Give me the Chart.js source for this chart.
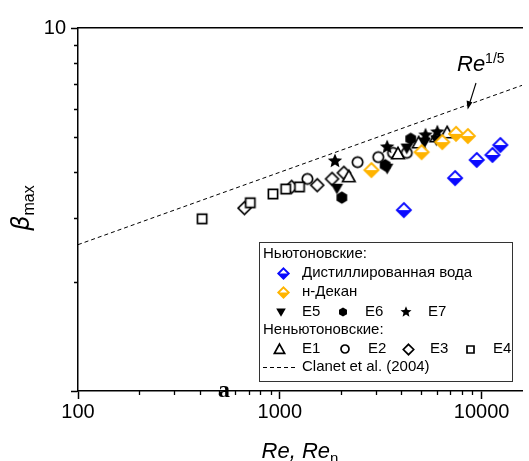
<!DOCTYPE html>
<html>
<head>
<meta charset="utf-8">
<script src="https://cdn.jsdelivr.net/npm/chart.js@4.4.0/dist/chart.umd.min.js"></script>
<style>html,body{margin:0;padding:0;background:#fff}canvas{display:block}</style>
</head>
<body>
<canvas id="c" width="529" height="461" style="width:529px;height:461px"></canvas>
<script>
// значения: Re (ось x) и beta_max (ось y)
const waterRe    = [4117, 7385, 9454, 11316, 12380];
const waterBeta  = [3.15, 3.86, 4.33, 4.47, 4.76];
const decaneRe   = [2843, 5039, 6381, 7469, 8545];
const decaneBeta = [4.06, 4.55, 4.85, 5.11, 5.04];
const e5Re   = [1918, 3402, 4258, 5213, 5965];
const e5Beta = [3.62, 4.11, 4.67, 4.85, 4.92];
const e6Re   = [2029, 3327, 4454];
const e6Beta = [3.41, 4.19, 4.95];
const e7Re   = [1876, 3402, 5272, 6033];
const e7Beta = [4.30, 4.70, 5.07, 5.17];
const e1Re   = [2196, 3849, 4873, 5965, 6749];
const e1Beta = [3.89, 4.50, 4.82, 5.01, 5.14];
const e2Re   = [1370, 2429, 3075, 3639, 4258];
const e2Beta = [3.84, 4.27, 4.41, 4.53, 4.53];
const e3Re   = [668, 1144, 1532, 1814, 2076];
const e3Beta = [3.19, 3.65, 3.69, 3.84, 3.99];
const e4Re   = [412, 714, 925, 1070, 1252];
const e4Beta = [2.98, 3.30, 3.49, 3.60, 3.65];
const clanetRe   = [100, 15849];
const clanetBeta = [2.53, 6.95];

const xTicks = [100,200,300,400,500,600,700,800,900,1000,2000,3000,4000,5000,6000,7000,8000,9000,10000];
const xMajor = [100, 1000, 10000];
const yTicks = [1,2,3,4,5,6,7,8,9,10];
const yMajor = [1, 10];

const F = '"Liberation Sans", Arial, sans-serif';
const BLUE = '#0a0aff', GOLD = '#ffb400';

const pts = (xs, ys) => xs.map((v, i) => ({x: v, y: ys[i]}));

// маркеры — маленькие canvas
function mk(sz, draw){
  const c = document.createElement('canvas'); c.width = c.height = sz;
  const g = c.getContext('2d'); g.translate(sz/2, sz/2); draw(g); return c;
}
function halfDiamond(col, r){
  return mk(Math.ceil(2*r+4), g => {
    const d = () => { g.beginPath(); g.moveTo(0,-r); g.lineTo(r,0); g.lineTo(0,r); g.lineTo(-r,0); g.closePath(); };
    d(); g.fillStyle = '#fff'; g.fill();
    g.beginPath(); g.moveTo(-r,0); g.lineTo(r,0); g.lineTo(0,r); g.closePath(); g.fillStyle = col; g.fill();
    d(); g.strokeStyle = col; g.lineWidth = 1.9; g.stroke();
  });
}
function openShape(kind, r){
  return mk(Math.ceil(2*r+4), g => {
    g.beginPath();
    if (kind === 'tri') { g.moveTo(0,-r); g.lineTo(r*0.95, r*0.72); g.lineTo(-r*0.95, r*0.72); g.closePath(); }
    else if (kind === 'circ') g.arc(0, 0, r, 0, Math.PI*2);
    else if (kind === 'dia') { g.moveTo(0,-r); g.lineTo(r,0); g.lineTo(0,r); g.lineTo(-r,0); g.closePath(); }
    else g.rect(-r, -r, 2*r, 2*r);
    g.fillStyle = '#fff'; g.fill(); g.strokeStyle = '#000'; g.lineWidth = 1.7; g.stroke();
  });
}
function solidShape(kind, r){
  return mk(Math.ceil(2*r+4), g => {
    g.beginPath();
    if (kind === 'down') { g.moveTo(-r, -r*0.72); g.lineTo(r, -r*0.72); g.lineTo(0, r); g.closePath(); }
    else if (kind === 'hex') {
      for (let i = 0; i < 6; i++) { const a = -Math.PI/2 + i*Math.PI/3; g.lineTo(r*Math.cos(a), r*Math.sin(a)); }
      g.closePath();
    } else {
      for (let i = 0; i < 10; i++) { const a = -Math.PI/2 + i*Math.PI/5, rr = i % 2 ? r*0.45 : r; g.lineTo(rr*Math.cos(a), rr*Math.sin(a)); }
      g.closePath();
    }
    g.fillStyle = '#000'; g.fill();
  });
}

const M = {
  water: halfDiamond(BLUE, 7), decane: halfDiamond(GOLD, 7),
  e5: solidShape('down', 6.2), e6: solidShape('hex', 6.2), e7: solidShape('star', 7.6),
  e1: openShape('tri', 6.6), e2: openShape('circ', 5.2), e3: openShape('dia', 6.4), e4: openShape('sq', 4.6)
};
const L = {
  water: halfDiamond(BLUE, 5.2), decane: halfDiamond(GOLD, 5.2),
  e5: solidShape('down', 4.8), e6: solidShape('hex', 4.6), e7: solidShape('star', 5.8),
  e1: openShape('tri', 5.4), e2: openShape('circ', 4), e3: openShape('dia', 5.2), e4: openShape('sq', 3.5)
};

function rich(ctx, parts, x, y, align){
  let w = 0;
  parts.forEach(p => { ctx.font = p[1]; w += ctx.measureText(p[0]).width; });
  let cx = align === 'center' ? x - w/2 : x;
  parts.forEach(p => { ctx.font = p[1]; ctx.fillText(p[0], cx, y + p[2]); cx += ctx.measureText(p[0]).width; });
}

const decor = {
  id: 'decor',
  afterDraw(chart){
    const {ctx, chartArea: a, scales: {x, y}} = chart;
    ctx.save();
    ctx.strokeStyle = '#000'; ctx.lineWidth = 1.3;
    ctx.beginPath();
    xTicks.filter(v => !xMajor.includes(v)).forEach(v => {
      const px = Math.round(x.getPixelForValue(v)) + 0.5;
      ctx.moveTo(px, a.bottom); ctx.lineTo(px, a.bottom + 4);
    });
    yTicks.filter(v => !yMajor.includes(v)).forEach(v => {
      const py = Math.round(y.getPixelForValue(v)) + 0.5;
      ctx.moveTo(a.left, py); ctx.lineTo(a.left - 4, py);
    });
    ctx.stroke();

    ctx.fillStyle = '#000'; ctx.textBaseline = 'alphabetic'; ctx.textAlign = 'left';
    // подпись оси x
    rich(ctx, [['Re, Re', 'italic 22px ' + F, 0], ['n', '15px ' + F, 5]], 300, 458, 'center');
    // подпись оси y
    ctx.save(); ctx.translate(29, 208); ctx.rotate(-Math.PI/2);
    rich(ctx, [['β', 'italic 24px "DejaVu Sans", ' + F, 0], ['max', '16px ' + F, 5]], 0, 0, 'center');
    ctx.restore();
    // Re^{1/5} со стрелкой
    rich(ctx, [['Re', 'italic 22px ' + F, 0], ['1/5', '14px ' + F, -8]], 457, 71, 'left');
    ctx.beginPath(); ctx.lineWidth = 1.1; ctx.moveTo(476, 83); ctx.lineTo(470, 102); ctx.stroke();
    ctx.beginPath(); ctx.moveTo(467.7, 109.5); ctx.lineTo(466.6, 100.6); ctx.lineTo(472.4, 102.3); ctx.closePath(); ctx.fill();
    // буква a
    ctx.font = 'bold 24px "Liberation Serif", serif'; ctx.textAlign = 'center';
    ctx.fillText('a', 224, 397);

    // легенда
    const bx = 259, by = 242, bw = 253, bh = 139;
    ctx.fillStyle = '#fff'; ctx.fillRect(bx, by, bw, bh);
    ctx.strokeStyle = '#333'; ctx.lineWidth = 1; ctx.strokeRect(bx + 0.5, by + 0.5, bw, bh);
    ctx.fillStyle = '#000'; ctx.textAlign = 'left'; ctx.textBaseline = 'middle';
    ctx.font = '15px ' + F;
    const img = (c, cx, cy) => ctx.drawImage(c, Math.round(cx - c.width/2), Math.round(cy - c.height/2));
    ctx.fillText('Ньютоновские:', 263, 254);
    img(L.water, 283, 273); ctx.fillText('Дистиллированная вода', 302, 273);
    img(L.decane, 283, 292); ctx.fillText('н-Декан', 302, 292);
    img(L.e5, 281, 312); ctx.fillText('E5', 302, 312);
    img(L.e6, 343, 312); ctx.fillText('E6', 365, 312);
    img(L.e7, 406, 312); ctx.fillText('E7', 428, 312);
    ctx.fillText('Неньютоновские:', 263, 330);
    img(L.e1, 279, 349); ctx.fillText('E1', 302, 349);
    img(L.e2, 345, 349); ctx.fillText('E2', 368, 349);
    img(L.e3, 408, 349); ctx.fillText('E3', 430, 349);
    img(L.e4, 470, 349); ctx.fillText('E4', 493, 349);
    ctx.beginPath(); ctx.setLineDash([4, 3]); ctx.lineWidth = 1; ctx.strokeStyle = '#000';
    ctx.moveTo(263, 367.5); ctx.lineTo(298, 367.5); ctx.stroke(); ctx.setLineDash([]);
    ctx.fillText('Clanet et al. (2004)', 302, 367);
    ctx.restore();
  }
};

const scatter = (data, style) => ({data, pointStyle: style, pointRadius: 6, showLine: false});

new Chart(document.getElementById('c'), {
  type: 'scatter',
  data: { datasets: [
    scatter(pts(waterRe, waterBeta), M.water),
    scatter(pts(decaneRe, decaneBeta), M.decane),
    scatter(pts(e7Re, e7Beta), M.e7),
    scatter(pts(e6Re, e6Beta), M.e6),
    scatter(pts(e5Re, e5Beta), M.e5),
    scatter(pts(e4Re, e4Beta), M.e4),
    scatter(pts(e1Re, e1Beta), M.e1),
    scatter(pts(e2Re, e2Beta), M.e2),
    scatter(pts(e3Re, e3Beta), M.e3),
    { data: pts(clanetRe, clanetBeta), showLine: true, pointRadius: 0, borderColor: '#000',
      borderWidth: 1, borderDash: [4, 3], fill: false }
  ]},
  options: {
    responsive: false, animation: false, devicePixelRatio: 1,
    layout: { padding: {top: 28, right: 0, left: 0, bottom: 0} },
    plugins: { legend: {display: false}, tooltip: {enabled: false} },
    scales: {
      x: { type: 'logarithmic', min: 100, max: 15849, position: 'bottom',
        afterFit: s => { s.height = 70; },
        afterBuildTicks: s => { s.ticks = xTicks.map(v => ({value: v})); },
        grid: { drawOnChartArea: false, drawTicks: true, tickLength: 8, tickWidth: 1.5,
          tickColor: c => xMajor.includes(c.tick && c.tick.value) ? '#000' : 'rgba(0,0,0,0)' },
        border: { display: true, color: '#000', width: 1.5 },
        ticks: { autoSkip: false, maxRotation: 0, padding: 1, color: '#000', font: {family: F, size: 20},
          callback: v => xMajor.includes(v) ? String(v) : '' } },
      x2: { type: 'linear', position: 'top', min: 0, max: 1, afterFit: s => { s.height = 0; },
        grid: { display: false }, ticks: { display: false },
        border: { display: true, color: '#000', width: 1.5 } },
      y: { type: 'logarithmic', min: 1, max: 10, position: 'left',
        afterFit: s => { s.width = 78; },
        afterBuildTicks: s => { s.ticks = yTicks.map(v => ({value: v})); },
        grid: { drawOnChartArea: false, drawTicks: true, tickLength: 7, tickWidth: 1.5,
          tickColor: c => yMajor.includes(c.tick && c.tick.value) ? '#000' : 'rgba(0,0,0,0)' },
        border: { display: true, color: '#000', width: 1.5 },
        ticks: { autoSkip: false, padding: 5, color: '#000', font: {family: F, size: 20},
          callback: v => v === 10 ? '10' : '' } }
    }
  },
  plugins: [decor]
});
</script>
</body>
</html>
